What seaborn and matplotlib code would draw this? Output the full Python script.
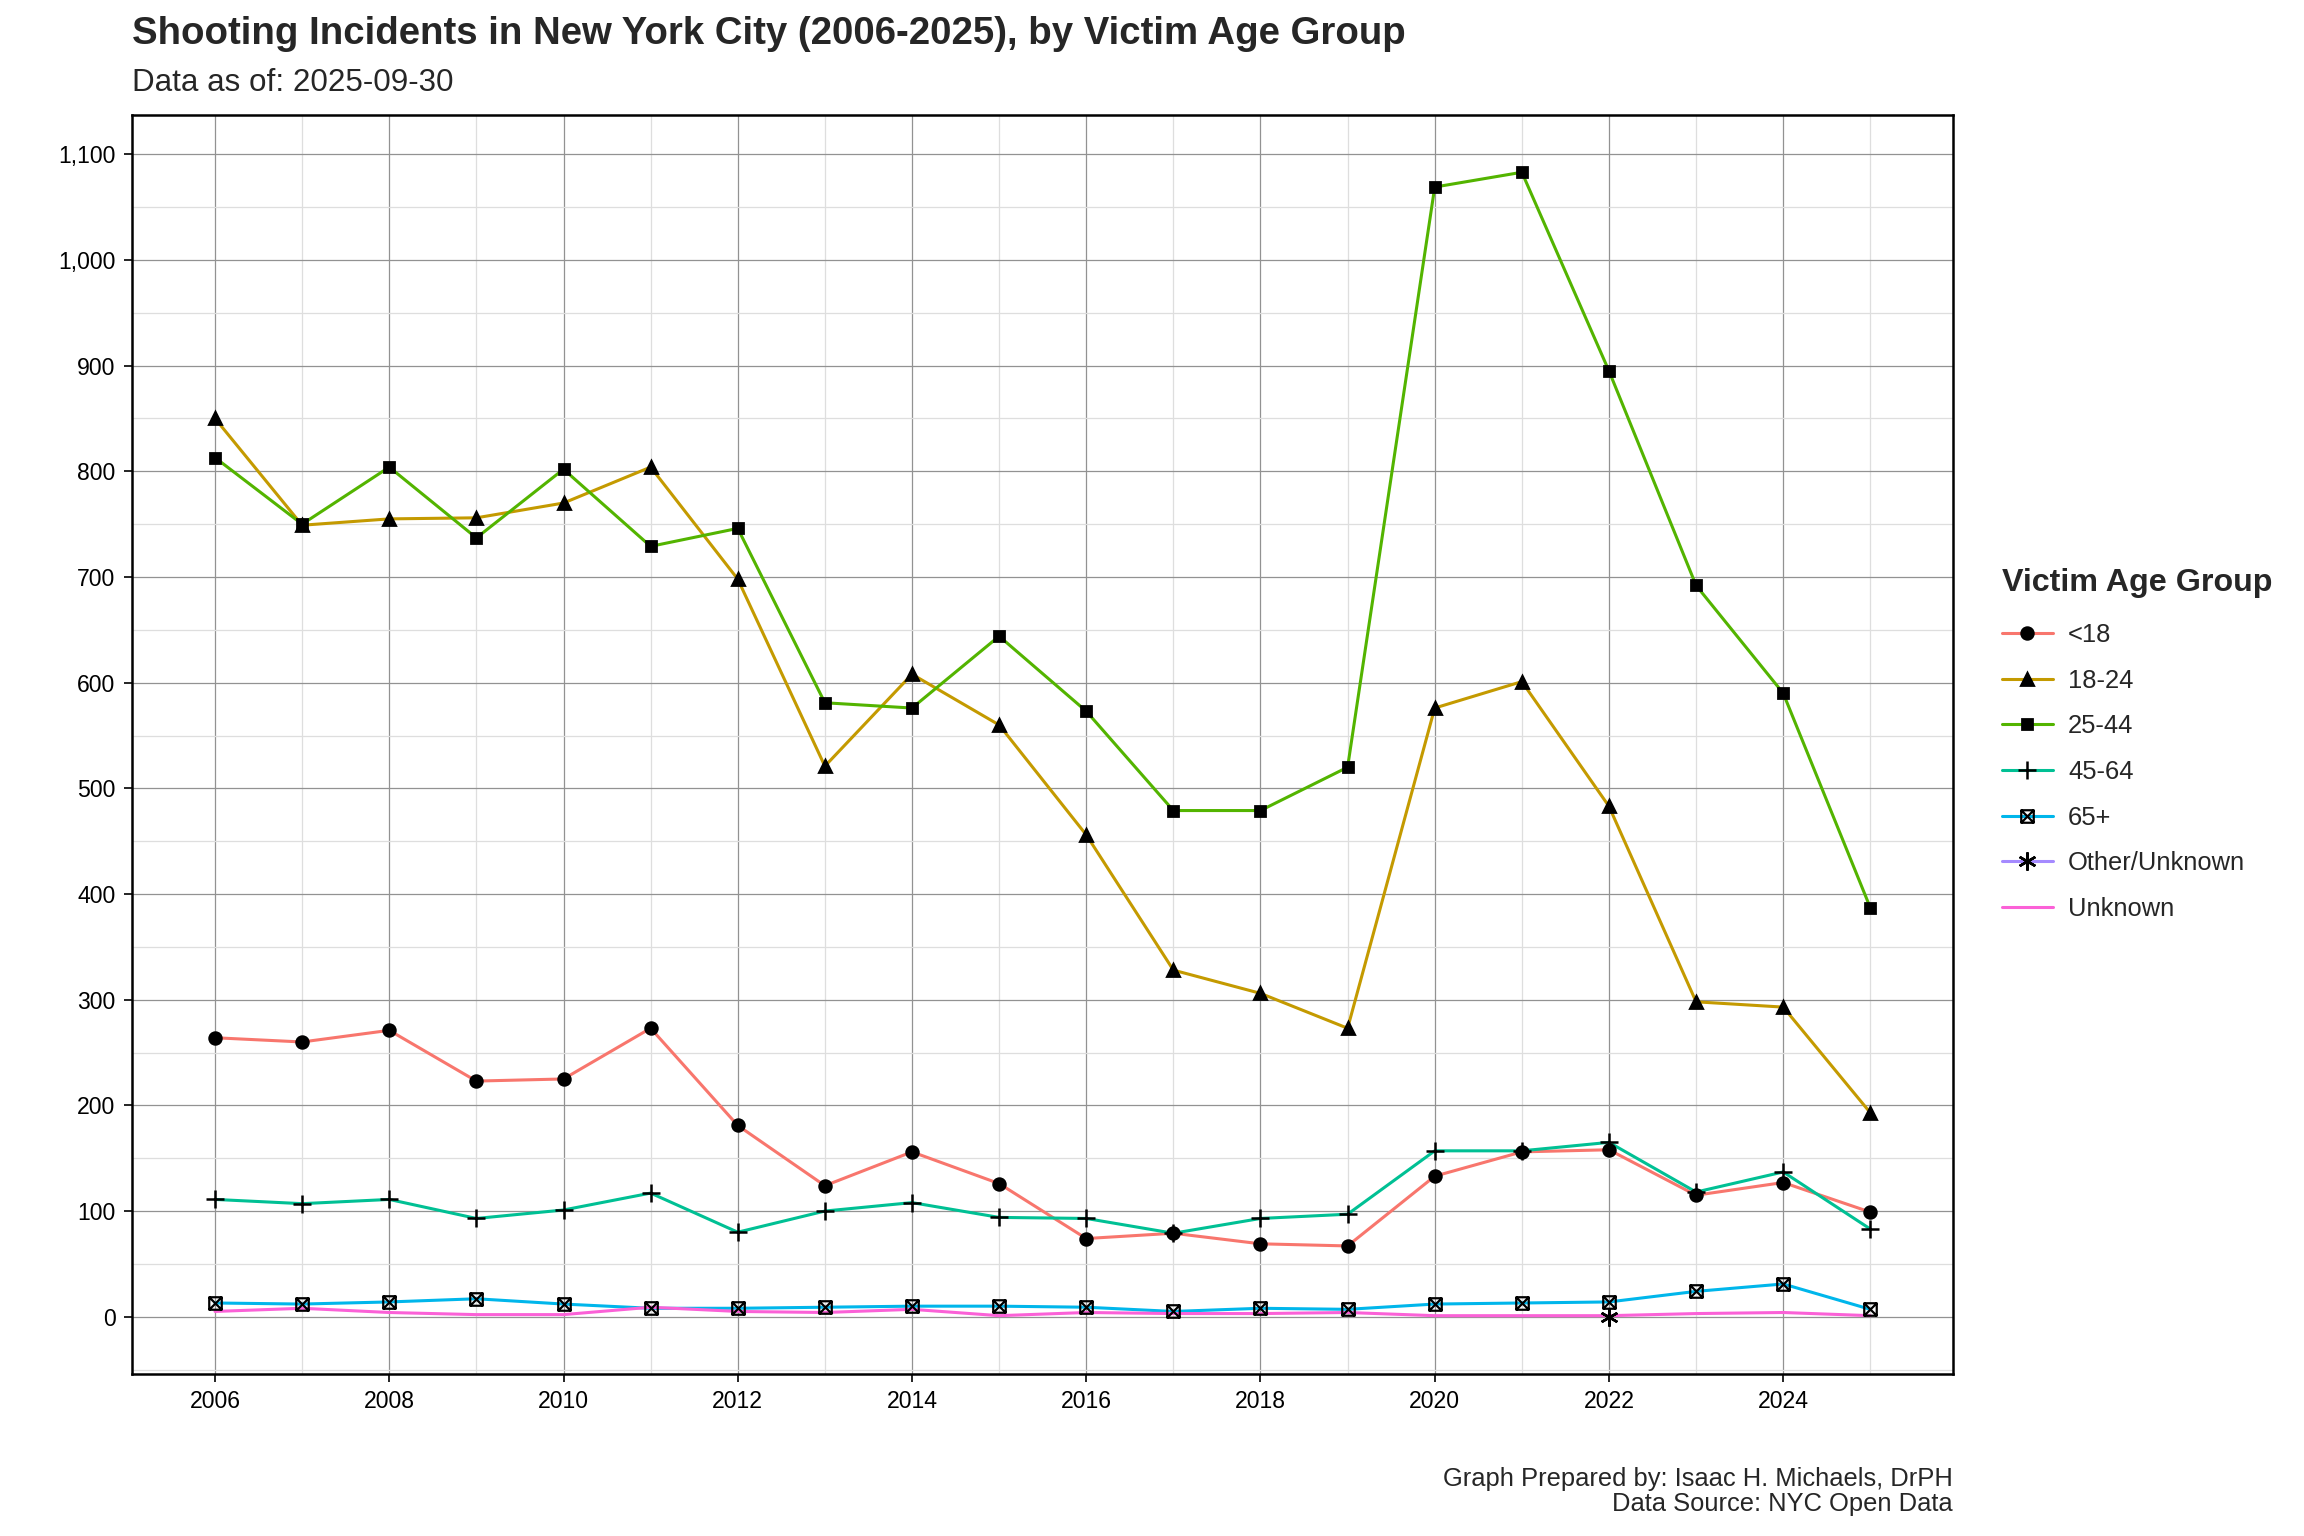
import matplotlib
matplotlib.use("Agg")
import matplotlib.pyplot as plt
import matplotlib.ticker as mticker
from matplotlib.path import Path
from matplotlib.lines import Line2D
import pandas as pd
import numpy as np
import seaborn as sns

years = list(range(2006, 2026))

under_18 = [264, 260, 271, 223, 225, 273, 181, 124, 156, 126, 74, 79, 69, 67, 133, 156, 158, 115, 127, 99]
age_18_24 = [850, 749, 755, 756, 770, 804, 698, 521, 608, 560, 456, 328, 306, 273, 576, 601, 483, 298, 293, 193]
age_25_44 = [813, 750, 804, 737, 802, 729, 746, 581, 576, 644, 573, 479, 479, 520, 1069, 1083, 895, 692, 590, 387]
age_45_64 = [111, 107, 111, 93, 101, 117, 80, 100, 108, 94, 93, 79, 93, 97, 157, 157, 165, 118, 137, 83]
age_65_plus = [13, 12, 14, 17, 12, 8, 8, 9, 10, 10, 9, 5, 8, 7, 12, 13, 14, 24, 31, 7]
other_years = [2022]
other_unknown = [0]
unknown = [5, 8, 4, 2, 2, 9, 5, 4, 7, 1, 4, 3, 3, 4, 1, 1, 1, 3, 4, 1]

groups = ["<18", "18-24", "25-44", "45-64", "65+", "Other/Unknown", "Unknown"]
colors = ["#F8766D", "#C49A00", "#53B400", "#00C094", "#00B6EB", "#A58AFF", "#FB61D7"]

series = {
    "<18": (years, under_18),
    "18-24": (years, age_18_24),
    "25-44": (years, age_25_44),
    "45-64": (years, age_45_64),
    "65+": (years, age_65_plus),
    "Other/Unknown": (other_years, other_unknown),
    "Unknown": (years, unknown),
}

rows = []
for g in groups:
    xs, ys = series[g]
    for x, y in zip(xs, ys):
        rows.append({"year": x, "count": y, "group": g})
df = pd.DataFrame(rows)

# square with an X inside (R shape 7)
box_x = Path(
    [(-1, -1), (1, -1), (1, 1), (-1, 1), (-1, -1), (-1, -1), (1, 1), (-1, 1), (1, -1)],
    [Path.MOVETO, Path.LINETO, Path.LINETO, Path.LINETO, Path.CLOSEPOLY,
     Path.MOVETO, Path.LINETO, Path.MOVETO, Path.LINETO],
)
markers = {
    "<18": dict(marker="o", ms=4.2),
    "18-24": dict(marker="^", ms=4.6),
    "25-44": dict(marker="s", ms=3.8),
    "45-64": dict(marker="+", ms=6.5, mew=0.9),
    "65+": dict(marker=box_x, ms=4.5, mfc="none", mew=0.8),
    "Other/Unknown": dict(marker=(6, 2, 0), ms=6.5, mew=0.9),
    "Unknown": None,
}

sns.set_theme(style="white")
plt.rcParams["font.family"] = ["Liberation Sans", "DejaVu Sans"]

fig = plt.figure(figsize=(11.52, 7.68), dpi=200)
ax = fig.add_axes([0.0574, 0.1056, 0.7903, 0.8194])

sns.lineplot(data=df, x="year", y="count", hue="group", hue_order=groups,
             palette=colors, linewidth=1.1, legend=False, ax=ax, zorder=3)

for g in groups:
    m = markers[g]
    if m is None:
        continue
    xs, ys = series[g]
    ax.plot(xs, ys, linestyle="none", color="black", zorder=4, **m)

ax.set_xlim(2005.05, 2025.95)
ax.set_ylim(-54, 1137)
ax.xaxis.set_major_locator(mticker.MultipleLocator(2))
ax.xaxis.set_minor_locator(mticker.MultipleLocator(1))
ax.yaxis.set_major_locator(mticker.MultipleLocator(100))
ax.yaxis.set_minor_locator(mticker.MultipleLocator(50))
ax.yaxis.set_major_formatter(mticker.FuncFormatter(lambda v, p: f"{v:,.0f}"))
ax.grid(which="major", color="#929292", linewidth=0.45)
ax.grid(which="minor", color="#dedede", linewidth=0.45)
ax.set_axisbelow(True)
ax.tick_params(which="major", direction="out", length=3, width=0.6, color="black",
               labelsize=8.3, labelcolor="black", left=True, bottom=True, pad=3)
ax.tick_params(which="minor", length=0)
for s in ax.spines.values():
    s.set_color("black")
    s.set_linewidth(0.9)
ax.set_xlabel("")
ax.set_ylabel("")

handles = []
for g, c in zip(groups, colors):
    m = markers[g]
    if m is None:
        handles.append(Line2D([], [], color=c, lw=1.1))
    else:
        h = Line2D([], [], color=c, lw=1.1, markeredgecolor="black", markerfacecolor="black", **m)
        handles.append(h)
leg = fig.legend(handles, groups, title="Victim Age Group", loc="upper left",
                 bbox_to_anchor=(0.8643, 0.637), frameon=False, fontsize=9.2,
                 title_fontproperties={"weight": "bold", "size": 11.6},
                 handlelength=2.0, labelspacing=0.85, handletextpad=0.6, alignment="left",
                 borderaxespad=0.0)
leg._legend_box.sep = 9

fig.text(0.0574, 0.978, "Shooting Incidents in New York City (2006-2025), by Victim Age Group",
         fontsize=13.8, fontweight="bold", ha="left", va="center")
fig.text(0.0574, 0.946, "Data as of: 2025-09-30", fontsize=11.3, ha="left", va="center")
fig.text(0.8477, 0.029, "Graph Prepared by: Isaac H. Michaels, DrPH\nData Source: NYC Open Data",
         fontsize=9.2, ha="right", va="center", linespacing=1.1)

fig.savefig("out.png", dpi=200)
